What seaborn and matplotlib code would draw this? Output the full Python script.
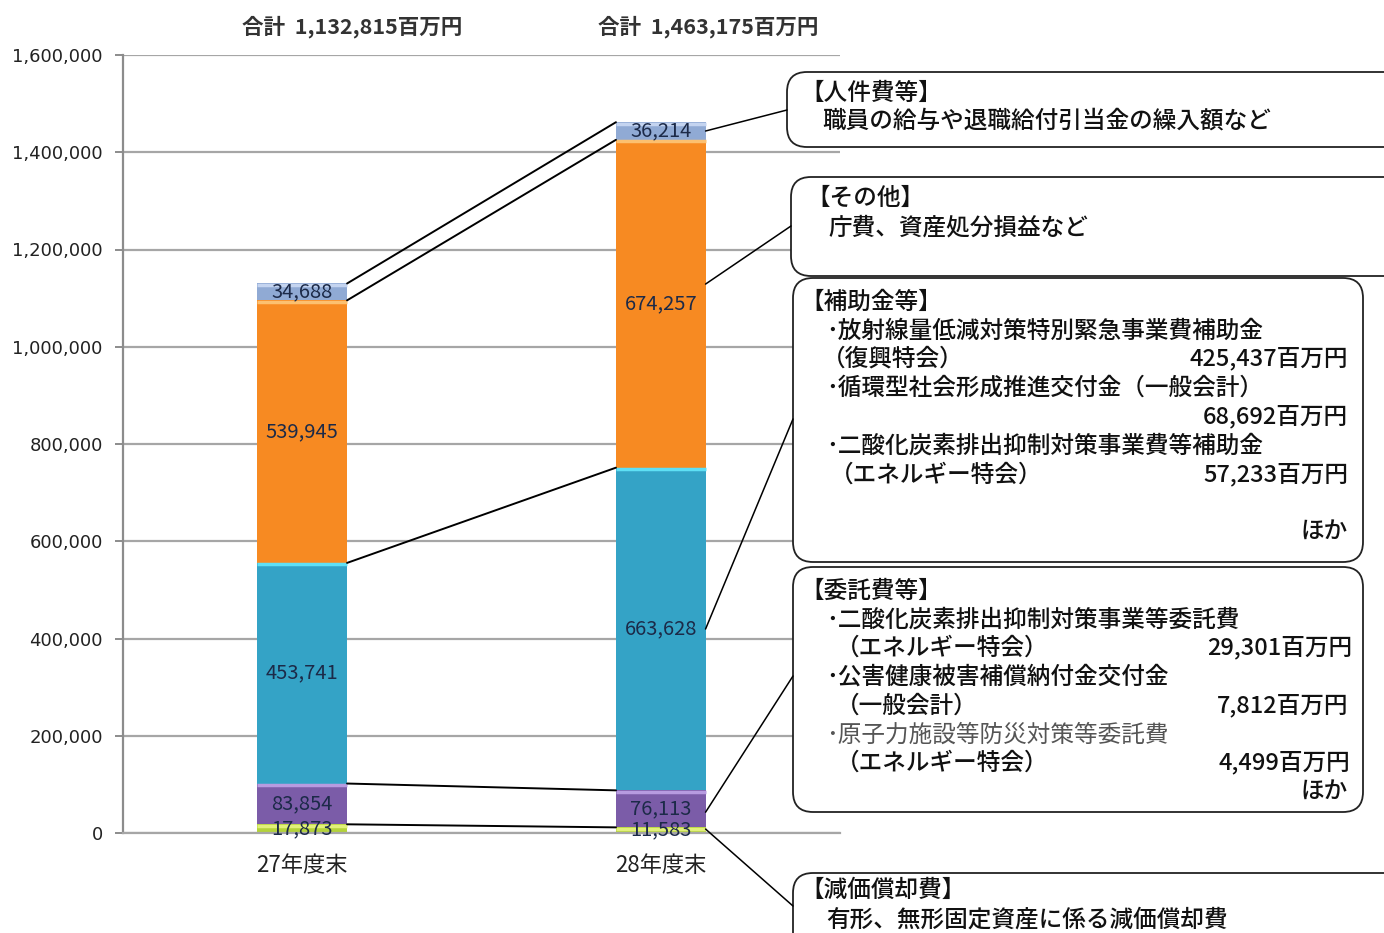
"""
環境省 業務費用の内訳 (27年度末 / 28年度末) - stacked bar with callouts
"""

import matplotlib
matplotlib.use("Agg")

import matplotlib.pyplot as plt
import numpy as np
import seaborn as sns
from matplotlib.patches import FancyBboxPatch, ConnectionPatch
from matplotlib.ticker import FuncFormatter

# =========================================================
# Data (百万円)
# =========================================================

YEARS = ["27年度末", "28年度末"]
TOTALS = ["1,132,815", "1,463,175"]

# bottom -> top
GENKA = [17873, 11583]        # 減価償却費
ITAKU = [83854, 76113]        # 委託費等
HOJO = [453741, 663628]       # 補助金等
SONOTA = [539945, 674257]     # その他
JINKEN = [34688, 36214]       # 人件費等

SERIES = [GENKA, ITAKU, HOJO, SONOTA, JINKEN]
COLORS = ["#b4d33a", "#7b5ca8", "#34a3c6", "#f78a22", "#90aad4"]
HILITE = ["#e2f07a", "#b79be0", "#5fe0f5", "#fcc070", "#c4d4f0"]

Y_TICKS = [0, 200000, 400000, 600000, 800000, 1000000, 1200000, 1400000, 1600000]

# =========================================================
# Plot settings
# =========================================================

sns.set_theme(style="white")
plt.rcParams["font.family"] = ["Noto Sans CJK JP", "DejaVu Sans"]

W, H = 1384, 933
fig = plt.figure(figsize=(W / 100, H / 100), dpi=100)
ax = fig.add_axes([123 / W, 1 - 833 / H, (840 - 123) / W, (833 - 55) / H])

BAR_W = 0.25
INCH = fig.dpi_scale_trans


def px(x, y):
    """pixel (top-left origin) -> inches for dpi_scale_trans"""
    return x / 100, (H - y) / 100


# =========================================================
# Stacked bars (overlay of cumulative totals)
# =========================================================

cum = np.cumsum(np.array(SERIES), axis=0)

for k in range(len(SERIES) - 1, -1, -1):
    sns.barplot(
        x=YEARS,
        y=cum[k],
        color=COLORS[k],
        saturation=1,
        width=BAR_W,
        ax=ax,
        zorder=2,
        linewidth=0,
    )

# light bevel on top of each segment
for k in range(len(SERIES)):
    for i in range(len(YEARS)):
        ax.plot([i - BAR_W / 2, i + BAR_W / 2], [cum[k][i] - 3000] * 2,
                color=HILITE[k], lw=2.5, zorder=3, solid_capstyle="butt")

# segment value labels
for k, vals in enumerate(SERIES):
    for i, v in enumerate(vals):
        mid = cum[k][i] - v / 2
        ax.text(i, mid, f"{v:,}", ha="center", va="center",
                fontsize=14.5, color="#1c2a48", zorder=4)

# connector lines between bars
for k in range(len(SERIES)):
    ax.plot([0 + BAR_W / 2, 1 - BAR_W / 2], [cum[k][0], cum[k][1]],
            color="black", lw=1.4, zorder=3)

# =========================================================
# Axes styling
# =========================================================

ax.set_xlim(-0.5, 1.5)
ax.set_ylim(0, 1600000)
ax.set_yticks(Y_TICKS)
ax.yaxis.set_major_formatter(FuncFormatter(lambda v, p: f"{v:,.0f}"))
ax.grid(axis="y", color="#a6a6a6", lw=1.6, zorder=0)
ax.set_axisbelow(True)

for side in ["top", "right"]:
    ax.spines[side].set_visible(False)
ax.spines["left"].set_color("#8c8c8c")
ax.spines["left"].set_linewidth(1.6)
ax.spines["bottom"].set_color("#a6a6a6")
ax.spines["bottom"].set_linewidth(1.6)

ax.tick_params(axis="y", length=5.5, width=1.4, color="#8c8c8c", pad=9,
               left=True, labelsize=13, labelcolor="#222222")
ax.tick_params(axis="x", length=0, pad=15, labelsize=16, labelcolor="#222222")
for lab in ax.get_yticklabels():
    lab.set_fontfamily("DejaVu Sans")
ax.set_xlabel("")
ax.set_ylabel("")

# totals on top
for xc, t in zip([352, 708], TOTALS):
    fig.text(*px(xc, 27), f"合計  {t}百万円", transform=INCH,
             ha="center", va="center", fontsize=15.5, fontweight="bold",
             color="#333333")

# =========================================================
# Callout boxes
# =========================================================

FS = 17


def box(x0, y0, x1, y1):
    bx, by = px(x0, y1)
    p = FancyBboxPatch((bx, by), (x1 - x0) / 100, (y1 - y0) / 100,
                       boxstyle="round,pad=0,rounding_size=0.2",
                       transform=INCH, facecolor="white",
                       edgecolor="#222222", lw=1.3)
    fig.patches.append(p)


def txt(x, y, s, ha="left", color="#111111", weight="medium"):
    fig.text(*px(x, y), s, transform=INCH, ha=ha, va="center",
             fontsize=FS, color=color, fontweight=weight)


def link(k, frac, bx, by):
    i = 1
    y = cum[k][i] - SERIES[k][i] + frac * SERIES[k][i]
    con = ConnectionPatch(xyA=(i + BAR_W / 2, y), coordsA=ax.transData,
                          xyB=px(bx, by), coordsB=INCH,
                          color="black", lw=1.1, zorder=5)
    fig.add_artist(con)


# 人件費等
box(787, 72, 1420, 147)
txt(800, 93, "【人件費等】")
txt(822, 121, "職員の給与や退職給付引当金の繰入額など")
link(4, 0.5, 787, 110)

# その他
box(791, 177, 1420, 276)
txt(806, 198, "【その他】")
txt(828, 228, "庁費、資産処分損益など")
link(3, 0.56, 791, 226)

# 補助金等
box(793, 278, 1363, 562)
txt(800, 302, "【補助金等】")
txt(826, 331, "･放射線量低減対策特別緊急事業費補助金")
txt(822, 359, "（復興特会）")
txt(1348, 359, "425,437百万円", ha="right")
txt(826, 388, "･循環型社会形成推進交付金（一般会計）")
txt(1348, 417, "68,692百万円", ha="right")
txt(826, 446, "･二酸化炭素排出抑制対策事業費等補助金")
txt(830, 475, "（エネルギー特会）")
txt(1348, 475, "57,233百万円", ha="right")
txt(1348, 532, "ほか", ha="right")
link(2, 0.5, 793, 419)

# 委託費等
box(793, 567, 1363, 812)
txt(800, 591, "【委託費等】")
txt(826, 620, "･二酸化炭素排出抑制対策事業等委託費")
txt(836, 648, "（エネルギー特会）")
txt(1352, 648, "29,301百万円", ha="right")
txt(826, 677, "･公害健康被害補償納付金交付金")
txt(836, 706, "（一般会計）")
txt(1348, 706, "7,812百万円", ha="right")
txt(826, 735, "･原子力施設等防災対策等委託費", color="#555555", weight="normal")
txt(836, 763, "（エネルギー特会）")
txt(1350, 763, "4,499百万円", ha="right")
txt(1348, 792, "ほか", ha="right")
link(1, 0.41, 793, 676)

# 減価償却費
box(793, 873, 1420, 980)
txt(800, 890, "【減価償却費】")
txt(826, 920, "有形、無形固定資産に係る減価償却費")
link(0, 0.7, 793, 906)

fig.savefig("out.png", dpi=100)
print("saved out.png")
